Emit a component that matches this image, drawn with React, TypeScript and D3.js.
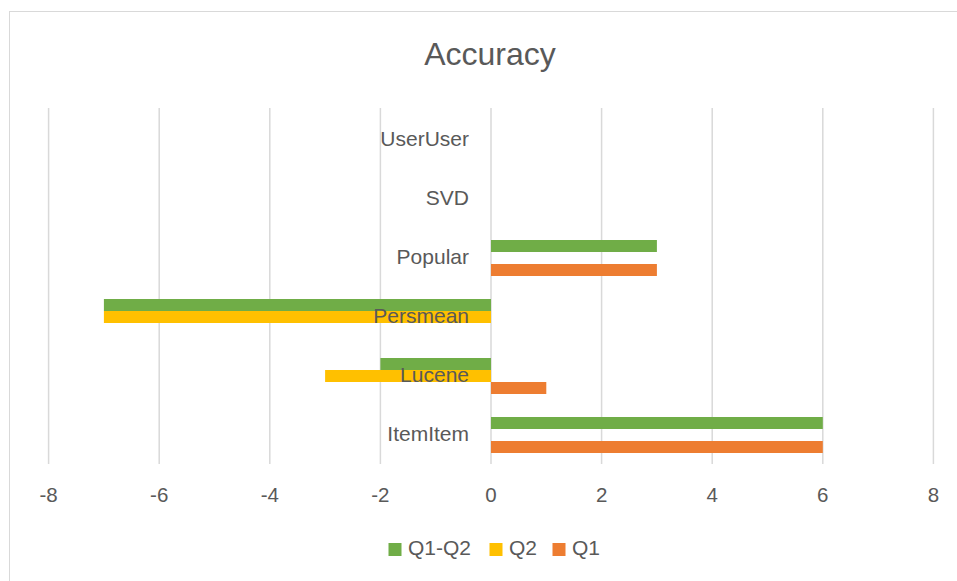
import React from "react";
import * as d3 from "d3";

// categories listed top to bottom
const categories = ["UserUser", "SVD", "Popular", "Persmean", "Lucene", "ItemItem"];
const seriesNames = ["Q1-Q2", "Q2", "Q1"];
const q1q2 = [0, 0, 3, -7, -2, 6];
const q2 = [0, 0, 0, -7, -3, 0];
const q1 = [0, 0, 3, 0, 1, 6];
const xTicks = [-8, -6, -4, -2, 0, 2, 4, 6, 8];
const colors = ["#70AD47", "#FFC000", "#ED7D31"];

const W = 957;
const H = 581;
const font = "'Liberation Sans', Arial, sans-serif";
const textColor = "#595959";

const App = () => {
  const values = [q1q2, q2, q1];

  const x = d3.scaleLinear().domain([-8, 8]).range([48.6, 933.4]);
  const y = d3.scaleBand().domain(categories).range([110.5, 464.5]).padding(0);
  const step = y.bandwidth();
  const barH = 12;
  const inner = d3
    .scaleBand()
    .domain(seriesNames)
    .range([(step - barH * 3) / 2, (step + barH * 3) / 2]);

  // legend layout (x positions of swatches)
  const legendX = [388.5, 489.5, 552.5];

  return (
    <svg
      width={W}
      height={H}
      style={{ position: "absolute", left: 0, top: 0, display: "block", background: "#fff" }}
    >
      <rect x={9.5} y={11.5} width={1000} height={1000} fill="#fff" stroke="#d9d9d9" />

      <text x={490} y={57} textAnchor="middle" dominantBaseline="middle"
        fontFamily={font} fontSize={32} fill={textColor}>
        Accuracy
      </text>

      {/* vertical gridlines */}
      {xTicks.map((t) => (
        <line key={t} x1={x(t)} x2={x(t)} y1={108} y2={464}
          stroke="#d9d9d9" strokeWidth={1.5} />
      ))}

      {/* bars */}
      {values.map((vals, si) =>
        vals.map((v, ci) => {
          const cy = (y(categories[ci]) as number) + (inner(seriesNames[si]) as number);
          return (
            <rect key={`${si}-${ci}`}
              x={Math.min(x(0), x(v))} y={cy}
              width={Math.abs(x(v) - x(0))} height={inner.bandwidth()}
              fill={colors[si]} />
          );
        })
      )}

      {/* category labels beside the zero axis */}
      {categories.map((c) => (
        <text key={c} x={x(0) - 22} y={(y(c) as number) + step / 2}
          textAnchor="end" dominantBaseline="middle"
          fontFamily={font} fontSize={21} fill={textColor}>
          {c}
        </text>
      ))}

      {/* x tick labels */}
      {xTicks.map((t) => (
        <text key={t} x={x(t)} y={497} textAnchor="middle" dominantBaseline="middle"
          fontFamily={font} fontSize={20.5} fill={textColor}>
          {t}
        </text>
      ))}

      {/* legend */}
      {seriesNames.map((s, i) => (
        <g key={s} transform={`translate(${legendX[i]},543)`}>
          <rect x={0} y={0} width={13} height={13} fill={colors[i]} />
          <text x={19.5} y={6.5} dominantBaseline="middle"
            fontFamily={font} fontSize={21} fill={textColor}>
            {s}
          </text>
        </g>
      ))}
    </svg>
  );
};

export default App;
